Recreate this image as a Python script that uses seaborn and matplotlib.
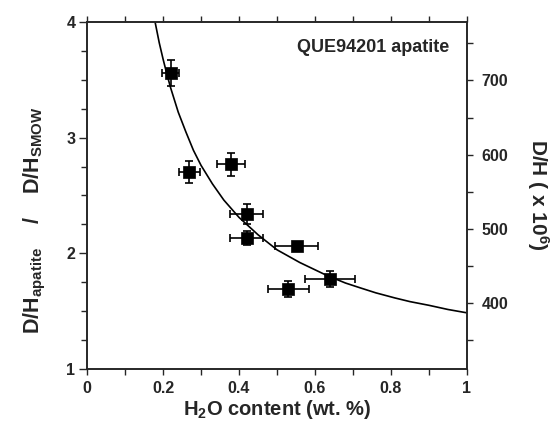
import matplotlib
matplotlib.use('Agg')
import matplotlib.pyplot as plt
import seaborn as sns
from matplotlib.ticker import FixedLocator, MultipleLocator

# measured apatite points (H2O wt.% vs D/H ratio relative to SMOW)
h2o = [0.220, 0.269, 0.379, 0.420, 0.420, 0.552, 0.530, 0.639]
ratio = [3.56, 2.70, 2.77, 2.34, 2.13, 2.06, 1.69, 1.78]
h2o_err = [0.022, 0.027, 0.038, 0.043, 0.043, 0.056, 0.054, 0.065]
ratio_err = [0.11, 0.094, 0.10, 0.09, 0.06, 0.04, 0.07, 0.07]

# mixing curve
curve_x = [0.179, 0.19, 0.20, 0.21, 0.22, 0.24, 0.26, 0.28, 0.30, 0.33,
           0.36, 0.40, 0.45, 0.50, 0.56, 0.63, 0.68, 0.72, 0.76, 0.81,
           0.85, 0.90, 0.95, 1.00]
curve_y = [4.00, 3.82, 3.68, 3.55, 3.43, 3.22, 3.05, 2.89, 2.76, 2.60,
           2.46, 2.31, 2.16, 2.03, 1.92, 1.81, 1.743, 1.70, 1.658, 1.614,
           1.582, 1.55, 1.514, 1.485]

x_ticks = [0, 0.2, 0.4, 0.6, 0.8, 1.0]
x_labels = ['0', '0.2', '0.4', '0.6', '0.8', '1']
y_ticks = [1, 2, 3, 4]
right_ticks = [400, 500, 600, 700]
right_lim = (311.5, 778.8)

sns.set_style('ticks')
plt.rcParams['font.family'] = ['Liberation Sans', 'DejaVu Sans']
plt.rcParams['font.weight'] = 'bold'
plt.rcParams['mathtext.fontset'] = 'custom'
plt.rcParams['mathtext.rm'] = 'Liberation Sans:bold'
plt.rcParams['mathtext.it'] = 'Liberation Sans:bold'
plt.rcParams['mathtext.bf'] = 'Liberation Sans:bold'

fig, ax = plt.subplots(figsize=(5.51, 4.30), dpi=100)
fig.subplots_adjust(left=0.158, right=0.8475, top=0.949, bottom=0.142)

sns.lineplot(x=curve_x, y=curve_y, color='black', linewidth=1.2,
             sort=False, estimator=None, ax=ax)
ax.errorbar(h2o, ratio, xerr=h2o_err, yerr=ratio_err, fmt='none',
            ecolor='black', elinewidth=1.2, capsize=2.8, capthick=1.2, zorder=3)
sns.scatterplot(x=h2o, y=ratio, marker='s', s=70, color='black',
                edgecolor='black', linewidth=0.5, ax=ax, zorder=4)

ax.set_xlim(0, 1)
ax.set_ylim(1, 4)
ax.xaxis.set_major_locator(FixedLocator(x_ticks))
ax.set_xticklabels(x_labels)
ax.xaxis.set_minor_locator(MultipleLocator(0.1))
ax.yaxis.set_major_locator(FixedLocator(y_ticks))
ax.yaxis.set_minor_locator(MultipleLocator(0.25))

for side in ['top', 'right', 'left', 'bottom']:
    ax.spines[side].set_visible(True)
    ax.spines[side].set_linewidth(1.2)

ax.tick_params(axis='x', which='both', direction='out', top=True, bottom=True,
               length=4.5, width=1, labelsize=11.5, pad=4)
ax.tick_params(axis='y', which='major', direction='out', left=True, right=False,
               length=5.5, width=1, labelsize=11.5, pad=3)
ax.tick_params(axis='y', which='minor', direction='out', left=True, right=False,
               length=4.2, width=1)

ax.set_xlabel(r'H$_2$O content (wt. %)', fontsize=14.5, fontweight='bold')
ax.xaxis.set_label_coords(0.5, -0.083)
ax.set_ylabel(r'D/H$_{apatite}$    /    D/H$_{SMOW}$', fontsize=15.5,
              fontweight='bold')
ax.yaxis.set_label_coords(-0.103, 0.43)

ax.text(0.552, 0.925, 'QUE94201 apatite', transform=ax.transAxes,
        fontsize=13, fontweight='bold', ha='left', va='center')

ax2 = ax.twinx()
ax2.set_ylim(*right_lim)
ax2.yaxis.set_major_locator(FixedLocator(right_ticks))
ax2.yaxis.set_minor_locator(MultipleLocator(50))
ax2.tick_params(axis='y', which='both', direction='out', length=4.5, width=1,
                labelsize=11.5, pad=6)
for side in ['top', 'right', 'left', 'bottom']:
    ax2.spines[side].set_linewidth(1.2)
ax2.set_ylabel(r'D/H ( x 10$^6$)', fontsize=15, fontweight='bold',
               rotation=270, va='center')
ax2.yaxis.set_label_coords(1.187, 0.5)

fig.savefig('out.png', dpi=100)
